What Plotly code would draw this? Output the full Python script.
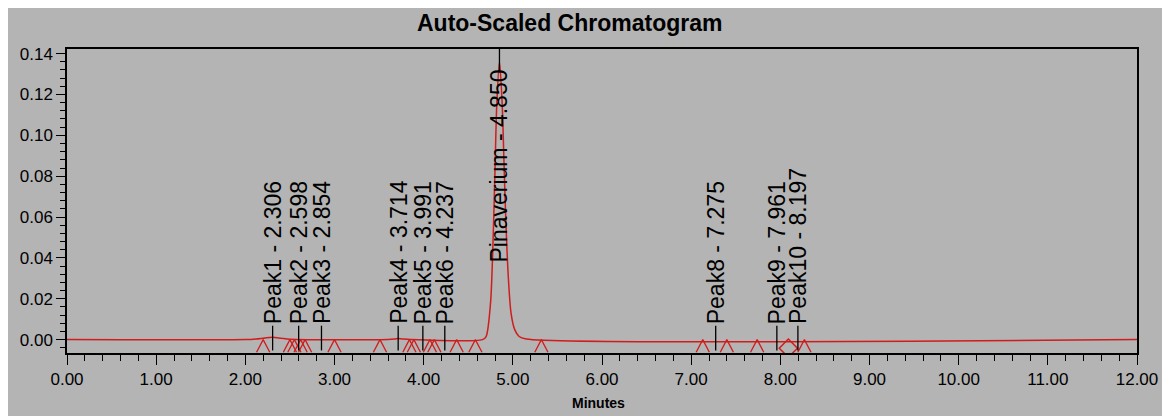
import plotly.graph_objects as go

# ---- data ----
time_min = [0.00, 2.00, 2.12, 2.22, 2.306, 2.40, 2.50, 3.60, 3.68, 3.714, 3.76, 3.85,
            4.66, 4.70, 4.75, 4.78, 4.80, 4.82, 4.85, 4.88, 4.90, 4.92, 4.95, 4.98,
            5.02, 5.07, 5.15, 12.00]
absorbance = [0.0, 0.0, 0.0003, 0.0008, 0.0011, 0.0007, 0.0002, 0.0, 0.0003, 0.0005, 0.0003, 0.0,
              0.0, 0.0015, 0.018, 0.051, 0.083, 0.115, 0.136, 0.116, 0.088, 0.060, 0.030, 0.013,
              0.005, 0.0015, 0.0003, 0.0]

peak_names = ["Peak1", "Peak2", "Peak3", "Peak4", "Peak5", "Peak6",
              "Pinaverium", "Peak8", "Peak9", "Peak10"]
peak_rt = [2.306, 2.598, 2.854, 3.714, 3.991, 4.237, 4.850, 7.275, 7.961, 8.197]
main_peak = "Pinaverium"

# integration start/end marks
integ_marks = [2.20, 2.50, 2.55, 2.62, 2.67, 3.00, 3.51, 3.84, 3.89, 4.07, 4.12,
               4.37, 4.58, 5.32, 7.13, 7.40, 7.74, 8.27]
drop_marks = [8.09]

x_ticks = [0, 1, 2, 3, 4, 5, 6, 7, 8, 9, 10, 11, 12]
y_ticks = [0.00, 0.02, 0.04, 0.06, 0.08, 0.10, 0.12, 0.14]

# ---- styling constants ----
RED = "#d01c1c"
GREY = "#b4b4b4"
FONT = "Arial, Liberation Sans, sans-serif"
Y_MIN, Y_MAX = -0.00656, 0.14225
TRI_W, TRI_BOT = 0.074, -0.0062
LBL_LO, LBL_HI = -0.0053, 0.0068

fig = go.Figure()

fig.add_trace(go.Scatter(x=time_min, y=absorbance, mode="lines",
                         line=dict(color=RED, width=1.5, shape="spline", smoothing=0.8),
                         hoverinfo="skip", showlegend=False))

tx, ty = [], []
for p in integ_marks:
    tx += [p - TRI_W, p, p + TRI_W, None]
    ty += [TRI_BOT, 0, TRI_BOT, None]
fig.add_trace(go.Scatter(x=tx, y=ty, mode="lines", line=dict(color=RED, width=1.3),
                         hoverinfo="skip", showlegend=False))

fig.add_trace(go.Scatter(x=drop_marks, y=[TRI_BOT / 2 - 0.0011] * len(drop_marks), mode="markers",
                         marker=dict(symbol="diamond-open", size=14, color=RED,
                                     line=dict(color=RED, width=1.5)),
                         hoverinfo="skip", showlegend=False))

lx, ly = [], []
for name, rt in zip(peak_names, peak_rt):
    if name == main_peak:
        lx += [rt, rt, None]
        ly += [Y_MAX, 0.1308, None]
    else:
        lx += [rt, rt, None]
        ly += [LBL_LO, LBL_HI, None]
fig.add_trace(go.Scatter(x=lx, y=ly, mode="lines", line=dict(color="black", width=1.3),
                         hoverinfo="skip", showlegend=False))

annotations = []
for name, rt in zip(peak_names, peak_rt):
    annotations.append(dict(
        x=rt, y=0.0372 if name == main_peak else LBL_HI + 0.0003,
        xref="x", yref="y", text=f"{name} - {rt:.3f}", showarrow=False,
        textangle=-90, xanchor="center", yanchor="bottom", borderpad=0,
        font=dict(family=FONT, size=23, color="black")))

annotations.append(dict(x=(568 - 60) / 1082, y=(353 - 22) / 305, xref="paper", yref="paper",
                        text="Auto-Scaled Chromatogram", showarrow=False,
                        xanchor="center", yanchor="middle",
                        font=dict(family=FONT, size=23, color="black", weight="bold")))
annotations.append(dict(x=(597 - 60) / 1082, y=(353 - 403) / 305, xref="paper", yref="paper",
                        text="Minutes", showarrow=False, xanchor="center", yanchor="middle",
                        font=dict(family=FONT, size=14, color="black", weight="bold")))

fig.update_layout(
    width=1162, height=408,
    margin=dict(l=52, r=28, t=41, b=63),
    paper_bgcolor=GREY, plot_bgcolor=GREY,
    annotations=annotations,
    font=dict(family=FONT, color="black"),
)
fig.update_xaxes(range=[0, 12], tickvals=x_ticks, ticktext=[f"{v:.2f}" for v in x_ticks],
                 showgrid=False, zeroline=False, showline=True, linecolor="black", linewidth=1.5,
                 mirror=True, ticks="outside", ticklen=10, tickwidth=1.3, tickcolor="black",
                 tickfont=dict(size=17, color="black"),
                 minor=dict(dtick=0.2, ticks="outside", ticklen=6, tickwidth=1.2,
                            tickcolor="black", showgrid=False))
fig.update_yaxes(range=[Y_MIN, Y_MAX], tickvals=y_ticks, ticktext=[f"{v:.2f}" for v in y_ticks],
                 showgrid=False, zeroline=False, showline=True, linecolor="black", linewidth=1.5,
                 mirror=True, ticks="outside", ticklen=9, tickwidth=1.3, tickcolor="black",
                 tickfont=dict(size=17, color="black"),
                 minor=dict(dtick=0.004, tick0=0, ticks="outside", ticklen=5, tickwidth=1.2,
                            tickcolor="black", showgrid=False))

fig.write_html("out.html")
